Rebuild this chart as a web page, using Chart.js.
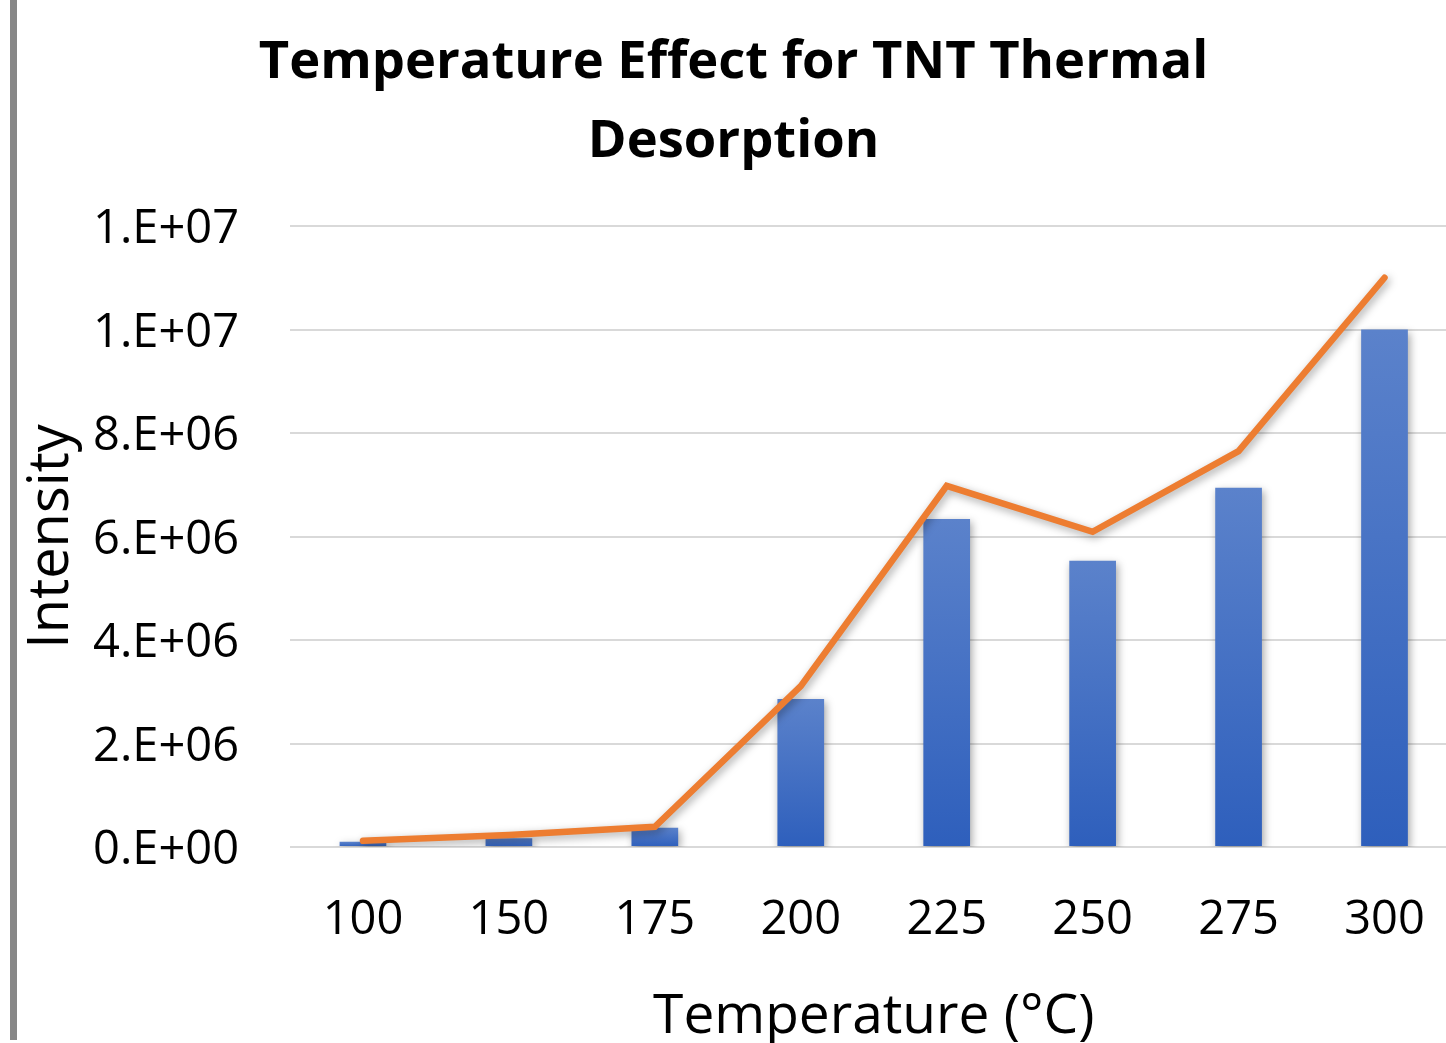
<!DOCTYPE html>
<html>
<head>
<meta charset="utf-8">
<script src="https://cdn.jsdelivr.net/npm/chart.js@4.4.0/dist/chart.umd.min.js"></script>
<style>
html, body { margin: 0; padding: 0; background: #fff; overflow: hidden; }
#wrap { position: relative; width: 1470px; height: 1070px; }
#borda { position: absolute; left: 10px; top: 0; width: 7px; height: 1040px; background: #878787; }
</style>
</head>
<body>
<div id="wrap">
    <canvas id="grafico" width="1470" height="1070"></canvas>
    <div id="borda"></div>
</div>
<script>
const temperaturas = ["100", "150", "175", "200", "225", "250", "275", "300"];
const barras = [0.10e6, 0.17e6, 0.37e6, 2.86e6, 6.34e6, 5.53e6, 6.94e6, 10.0e6];
const linha = [0.12e6, 0.23e6, 0.39e6, 3.11e6, 6.98e6, 6.09e6, 7.65e6, 11.0e6];
const yTicks = [0, 2e6, 4e6, 6e6, 8e6, 10e6, 12e6];

const fonte = "'Open Sans', sans-serif";

// formato do Excel 0.E+00
function formatoExcel(v) {
    if (v === 0) return "0.E+00";
    let e = Math.floor(Math.log10(v));
    let m = Math.round(v / Math.pow(10, e));
    if (m >= 10) { m = 1; e++; }
    return m + ".E+" + String(e).padStart(2, "0");
}

// sombra leve nas barras e na linha
const sombra = {
    id: "sombra",
    beforeDatasetDraw(chart) {
        const ctx = chart.ctx;
        ctx.save();
        ctx.shadowColor = "rgba(0,0,0,0.35)";
        ctx.shadowBlur = 8;
        ctx.shadowOffsetX = 2;
        ctx.shadowOffsetY = 3;
    },
    afterDatasetDraw(chart) {
        chart.ctx.restore();
    }
};

new Chart("grafico", {
    type: "bar",
    data: {
        labels: temperaturas,
        datasets: [{
            type: "line",
            data: linha,
            borderColor: "#ed7d31",
            borderWidth: 6.5,
            pointRadius: 0,
            borderCapStyle: "round",
            tension: 0,
            order: 1
        }, {
            data: barras,
            order: 2,
            barPercentage: 0.32,
            categoryPercentage: 1,
            backgroundColor: function (c) {
                const chart = c.chart;
                if (!chart.chartArea || c.type !== "data") return "#4472c4";
                const topo = chart.scales.y.getPixelForValue(c.raw);
                const base = chart.scales.y.getPixelForValue(0);
                const g = chart.ctx.createLinearGradient(0, topo, 0, base);
                g.addColorStop(0, "#5b82cb");
                g.addColorStop(1, "#2e5fbc");
                return g;
            }
        }]
    },
    options: {
        responsive: false,
        animation: false,
        layout: {
            padding: { left: 0, right: 3, top: 0, bottom: 0 }
        },
        plugins: {
            legend: { display: false },
            tooltip: { enabled: false },
            title: {
                display: true,
                text: ["Temperature Effect for TNT Thermal", "Desorption"],
                color: "#000",
                font: { family: fonte, size: 52.5, weight: "bold", lineHeight: 79 / 52.5 },
                padding: { top: 24, bottom: 44 }
            }
        },
        scales: {
            x: {
                grid: { display: false, drawTicks: false },
                border: { display: false },
                ticks: {
                    color: "#000",
                    font: { family: fonte, size: 47 },
                    padding: 45
                },
                title: {
                    display: true,
                    text: "Temperature (°C)",
                    color: "#000",
                    font: { family: fonte, size: 55, lineHeight: 1.2 },
                    padding: { top: 0, bottom: 20 }
                },
                afterFit: function (axis) { axis.height = 223; }
            },
            y: {
                min: 0,
                max: 12e6,
                afterBuildTicks: function (axis) {
                    axis.ticks = yTicks.map(v => ({ value: v }));
                },
                grid: { color: "#d9d9d9", lineWidth: 2, drawTicks: false },
                border: { display: false },
                ticks: {
                    color: "#000",
                    font: { family: fonte, size: 47 },
                    padding: 51,
                    labelOffset: 4,
                    callback: function (v) { return formatoExcel(v); }
                },
                title: {
                    display: true,
                    text: "Intensity",
                    color: "#000",
                    font: { family: fonte, size: 56, lineHeight: 1.2 },
                    padding: { top: 18, bottom: 0 }
                },
                afterFit: function (axis) { axis.width = 290; }
            }
        }
    },
    plugins: [sombra]
});
</script>
</body>
</html>
